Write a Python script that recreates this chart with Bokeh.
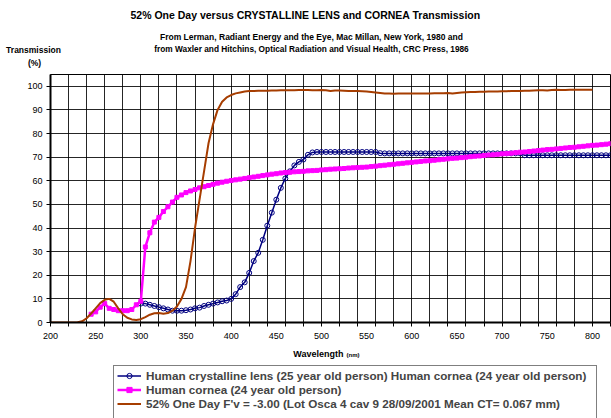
from bokeh.plotting import figure
from bokeh.layouts import column
from bokeh.models import Range1d, FixedTicker, Label, Legend, LegendItem, ColumnDataSource
from bokeh.embed import file_html
from bokeh.resources import INLINE

# ---------------- data ----------------
lens_nm = list(range(300, 821, 5))
lens_t = [8.0, 8.0, 7.5, 7.0, 6.5, 6.0, 5.5, 5.0, 5.0, 5.0,
          5.2, 5.5, 6.0, 6.3, 7.0, 7.5, 8.0, 8.5, 9.0, 9.3,
          10.0, 12.0, 15.0, 17.0, 21.0, 26.0, 29.5, 35.0, 41.0, 46.5,
          52.0, 57.0, 61.0, 64.0, 66.5, 68.0, 69.0, 71.0, 72.0,
          72.2, 72.2, 72.2, 72.2, 72.2, 72.2, 72.2, 72.2, 72.2, 72.2, 72.2, 72.2, 72.2, 72.2,
          71.7, 71.6, 71.6, 71.6, 71.6, 71.6, 71.6, 71.6, 71.6, 71.6, 71.6, 71.6, 71.6, 71.6, 71.6, 71.6,
          71.6, 71.6, 71.6, 71.6, 71.6, 71.6, 71.6, 71.6, 71.6, 71.6, 71.6, 71.6, 71.6, 71.6, 71.6, 71.6,
          70.8, 70.8, 70.8, 70.8, 70.8, 70.8, 70.8, 70.8, 70.8, 70.8,
          70.8, 70.8, 70.8, 70.8, 70.8, 70.8, 70.8, 70.8, 70.8, 70.8]

cornea_nm = list(range(245, 821, 5))
cornea_t = [3.5, 4.5, 6.5, 8.0, 6.0, 5.5, 5.0, 5.0, 5.0, 5.5, 7.5, 9.0,
            32.0, 38.0, 42.5, 44.5, 47.0, 49.0, 51.0, 53.0, 54.0, 55.0,
            55.7, 56.3, 57.0, 57.5, 58.0, 58.5, 59.0, 59.4, 59.8, 60.1,
            60.4, 60.7, 61.0, 61.3, 61.6, 61.9, 62.2, 62.5, 62.8, 63.0,
            63.3, 63.5, 63.6, 63.8, 63.9, 64.0, 64.2, 64.3, 64.4, 64.6,
            64.7, 64.9, 65.0, 65.1, 65.2, 65.4, 65.5, 65.6, 65.7, 65.8,
            66.0, 66.2, 66.4, 66.6, 66.8, 67.0, 67.2, 67.4, 67.6, 67.8,
            68.0, 68.2, 68.4, 68.5, 68.7, 68.9, 69.1, 69.3, 69.5, 69.6,
            69.8, 70.0, 70.2, 70.4, 70.5, 70.7, 70.9, 71.0, 71.2, 71.4,
            71.5, 71.7, 71.9, 72.1, 72.2, 72.4, 72.6, 72.8, 73.0, 73.2,
            73.3, 73.5, 73.7, 73.9, 74.1, 74.2, 74.4, 74.6, 74.8, 75.0,
            75.1, 75.3, 75.5, 75.7]

oneday_nm = list(range(200, 801, 5))
oneday_t = [0.0, 0.0, 0.0, 0.0, 0.0, 0.0, 0.1, 0.5, 1.8, 3.8,
            6.0, 8.2, 9.6, 10.0, 8.8, 6.0, 3.5, 2.0, 1.3, 1.1,
            1.4, 2.3, 3.3, 3.9, 4.0, 3.7, 4.0, 5.0, 6.8, 10.0,
            15.0, 26.0, 40.0, 52.0, 64.0, 76.0, 84.0, 90.0, 93.5, 95.3,
            96.3, 97.0, 97.4, 97.8, 98.0, 98.0, 98.1, 98.1, 98.1, 98.2,
            98.2, 98.3, 98.3, 98.3, 98.3, 98.4, 98.4, 98.4, 98.3, 98.3,
            98.4, 98.3, 98.0, 98.2, 98.2, 98.1, 98.0, 98.0, 98.0, 97.9,
            97.8, 97.6, 97.4, 97.2, 97.0, 97.0, 96.9, 97.0, 97.0, 97.0,
            97.0, 97.0, 97.0, 97.0, 97.0, 97.1, 97.1, 97.1, 97.2, 97.0,
            97.2, 97.4, 97.5, 97.6, 97.6, 97.7, 97.7, 97.8, 97.8, 97.8,
            97.9, 97.9, 98.0, 98.0, 98.0, 98.1, 98.1, 98.2, 98.3, 98.3,
            98.2, 98.4, 98.5, 98.4, 98.4, 98.5, 98.5, 98.5, 98.5, 98.5,
            98.5]

x_label_ticks = [200, 250, 300, 350, 400, 450, 500, 550, 600, 650, 700, 750, 800]
x_grid_ticks = list(range(200, 821, 20))
y_ticks = [0, 10, 20, 30, 40, 50, 60, 70, 80, 90, 100]

title_text = "52% One Day versus CRYSTALLINE LENS and CORNEA Transmission"
sub1_text = "From Lerman, Radiant Energy and the Eye, Mac Millan, New York, 1980 and"
sub2_text = "from Waxler and Hitchins, Optical Radiation and Visual Health, CRC Press, 1986"
ylabel_1 = "Transmission"
ylabel_2 = "(%)"
xlabel_1 = "Wavelength"
xlabel_2 = "(nm)"
lens_label = "Human crystalline lens (25 year old person) Human cornea (24 year old person)"
cornea_label = "Human cornea (24 year old person)"
oneday_label = "52% One Day F'v = -3.00 (Lot Osca 4 cav 9 28/09/2001 Mean CT= 0.067 mm)"

FONT = "Liberation Sans"
BLUE = "#000080"
MAGENTA = "#FF00FF"
BROWN = "#A63D00"

W = 611
TOP_H = 73
MAIN_H = 273
BOT_H = 418 - TOP_H - MAIN_H  # 72


def blank_fig(h):
    f = figure(width=W, height=h, output_backend="svg", toolbar_location=None,
               x_range=Range1d(0, W), y_range=Range1d(0, h),
               x_axis_location=None, y_axis_location=None,
               min_border=0, min_border_left=0, min_border_right=0,
               min_border_top=0, min_border_bottom=0,
               frame_width=W, frame_height=h, frame_align=False)
    f.grid.visible = False
    f.outline_line_color = None
    f.background_fill_color = "white"
    f.border_fill_color = "white"
    return f


def add_text(f, text, x, y, size, align="center", bold=True):
    # x from figure left, y up from figure bottom (screen pixels)
    f.add_layout(Label(x=x, y=y, x_units="screen", y_units="screen", text=text,
                       text_font=FONT, text_font_size=size,
                       text_font_style="bold" if bold else "normal",
                       text_align=align, text_baseline="middle", text_color="black"))


# ---------------- top (titles) ----------------
top = blank_fig(TOP_H)
add_text(top, title_text, 305, TOP_H - 14, "10.5px")
add_text(top, sub1_text, 311, TOP_H - 36, "8.5px")
add_text(top, sub2_text, 311, TOP_H - 48, "8.3px")
add_text(top, ylabel_1, 33, TOP_H - 49, "8.5px")
add_text(top, ylabel_2, 34, TOP_H - 62, "8.5px")

# ---------------- main chart ----------------
p = figure(width=W, height=MAIN_H, output_backend="svg", toolbar_location=None,
           x_range=Range1d(200, 820), y_range=Range1d(0, 105),
           min_border_left=50, min_border_right=1, min_border_top=1, min_border_bottom=24)
p.title.visible = False
p.background_fill_color = "white"
p.border_fill_color = "white"
p.outline_line_color = "black"
p.outline_line_width = 1

p.xgrid.ticker = FixedTicker(ticks=x_grid_ticks)
p.ygrid.ticker = FixedTicker(ticks=y_ticks)
for g in (p.xgrid, p.ygrid):
    g.grid_line_color = "black"
    g.grid_line_width = 1
    g.grid_line_alpha = 0.85

xa = p.xaxis[0]
xa.ticker = FixedTicker(ticks=x_label_ticks, minor_ticks=x_grid_ticks)
xa.major_tick_out = 0
xa.major_tick_in = 0
xa.minor_tick_out = 4
xa.minor_tick_in = 0
xa.minor_tick_line_color = "black"
xa.axis_line_width = 2
xa.axis_line_color = "black"
xa.major_label_standoff = 6
xa.major_label_text_font = FONT
xa.major_label_text_font_size = "9px"
xa.major_label_text_color = "black"

ya = p.yaxis[0]
ya.ticker = FixedTicker(ticks=y_ticks)
ya.major_tick_out = 4
ya.major_tick_in = 0
ya.minor_tick_out = 0
ya.minor_tick_in = 0
ya.major_tick_line_color = "black"
ya.axis_line_width = 2
ya.axis_line_color = "black"
ya.major_label_standoff = 4
ya.major_label_text_font = FONT
ya.major_label_text_font_size = "9px"
ya.major_label_text_color = "black"

lens_src = ColumnDataSource(dict(x=lens_nm, y=lens_t))
cornea_src = ColumnDataSource(dict(x=cornea_nm, y=cornea_t))
oneday_src = ColumnDataSource(dict(x=oneday_nm, y=oneday_t))

lens_style = dict(line_color=BLUE, line_width=1.5)
lens_mk = dict(marker="circle", size=5, line_color=BLUE, line_width=1, fill_color=None)
cornea_style = dict(line_color=MAGENTA, line_width=2.5)
cornea_mk = dict(marker="square", size=4, line_color=MAGENTA, fill_color=MAGENTA)
oneday_style = dict(line_color=BROWN, line_width=2)

p.line("x", "y", source=lens_src, **lens_style)
p.scatter("x", "y", source=lens_src, **lens_mk)
p.line("x", "y", source=cornea_src, **cornea_style)
p.scatter("x", "y", source=cornea_src, **cornea_mk)
p.line("x", "y", source=oneday_src, **oneday_style)

# ---------------- bottom (axis title + legend) ----------------
bot = blank_fig(BOT_H)
add_text(bot, xlabel_1, 343, BOT_H - 7, "9px", align="right")
add_text(bot, xlabel_2, 346, BOT_H - 8, "6px", align="left")

# legend proxies (same styles, one point outside the visible range)
e = dict(x=[-1000], y=[-1000])
g1 = bot.line(**e, **lens_style)
g1m = bot.scatter(**e, **lens_mk)
g2 = bot.line(**e, **cornea_style)
g2m = bot.scatter(**e, **cornea_mk)
g3 = bot.line(**e, **oneday_style)

legend = Legend(items=[
    LegendItem(label=lens_label + "  ", renderers=[g1, g1m]),
    LegendItem(label=cornea_label, renderers=[g2, g2m]),
    LegendItem(label=oneday_label, renderers=[g3]),
    LegendItem(label=" ", renderers=[]),
], location=(113, -10))
legend.label_text_font = FONT
legend.label_text_font_style = "bold"
legend.label_text_font_size = "11.7px"
legend.label_height = 13
legend.glyph_height = 13
legend.glyph_width = 24
legend.label_standoff = 5
legend.spacing = 1
legend.padding = 3
legend.margin = 0
legend.border_line_color = "black"
legend.border_line_width = 1
legend.background_fill_color = "white"
legend.background_fill_alpha = 1
bot.add_layout(legend, "center")

layout = column(top, p, bot, spacing=0)
open("out.html", "w").write(file_html(layout, INLINE))
